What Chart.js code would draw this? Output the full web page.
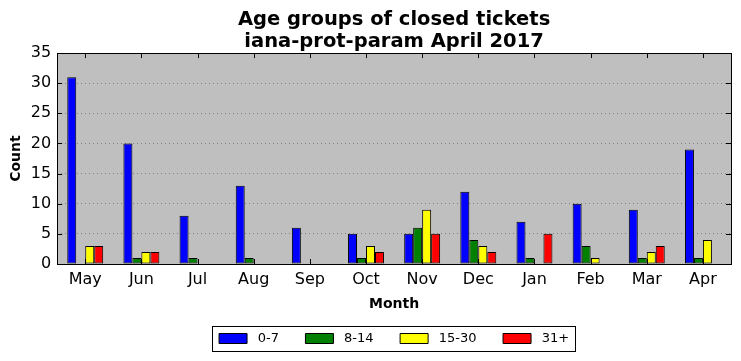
<!DOCTYPE html>
<html>
<head>
<meta charset="utf-8">
<script src="https://cdn.jsdelivr.net/npm/chart.js@4/dist/chart.umd.min.js"></script>
<style>
html,body{margin:0;padding:0;background:#fff;}
#wrap{width:741px;height:361px;}
</style>
</head>
<body>
<div id="wrap"><canvas id="c" width="741" height="361"></canvas></div>
<script>
const months = ["May","Jun","Jul","Aug","Sep","Oct","Nov","Dec","Jan","Feb","Mar","Apr"];
const age0to7   = [31, 20, 8, 13, 6, 5, 5, 12, 7, 10, 9, 19];
const age8to14  = [0, 1, 1, 1, 0, 1, 6, 4, 1, 3, 1, 1];
const age15to30 = [3, 2, 0, 0, 0, 3, 9, 3, 0, 1, 2, 4];
const age31plus = [3, 2, 0, 0, 0, 2, 5, 2, 5, 0, 3, 0];
const seriesNames = ["0-7","8-14","15-30","31+"];
const seriesColors = ["#0000ff","#008000","#ffff00","#ff0000"];

const FONT = "'DejaVu Sans', sans-serif";

const framePlugin = {
  id: 'frame',
  beforeDraw(chart) {
    const {ctx, chartArea: a} = chart;
    ctx.save();
    ctx.fillStyle = '#bfbfbf';
    ctx.fillRect(a.left, a.top, a.right - a.left, a.bottom - a.top);
    ctx.restore();
  },
  afterDraw(chart) {
    const {ctx, chartArea: a, scales} = chart;
    ctx.save();
    ctx.strokeStyle = '#000';
    ctx.lineWidth = 1;
    ctx.beginPath();
    const xs = scales.x;
    xs.ticks.forEach((t, i) => {
      const px = Math.round(xs.getPixelForTick(i)) + 0.5;
      ctx.moveTo(px, a.bottom); ctx.lineTo(px, a.bottom - 5);
      ctx.moveTo(px, a.top); ctx.lineTo(px, a.top + 5);
    });
    const ys = scales.y;
    ys.ticks.forEach((t, i) => {
      const py = Math.round(ys.getPixelForTick(i)) + 0.5;
      ctx.moveTo(a.left, py); ctx.lineTo(a.left + 5, py);
      ctx.moveTo(a.right, py); ctx.lineTo(a.right - 5, py);
    });
    ctx.stroke();
    ctx.strokeRect(Math.round(a.left) + 0.5, Math.round(a.top) + 0.5,
                   Math.round(a.right - a.left), Math.round(a.bottom - a.top));
    const lg = chart.legend;
    if (lg && lg.legendHitBoxes && lg.legendHitBoxes.length) {
      const hb = lg.legendHitBoxes;
      let l = Infinity, r = -Infinity, t = Infinity, b = -Infinity;
      hb.forEach(h => {
        l = Math.min(l, h.left); r = Math.max(r, h.left + h.width);
        t = Math.min(t, h.top); b = Math.max(b, h.top + h.height);
      });
      ctx.strokeRect(Math.round(l - 7) + 0.5, Math.round(t - 6) + 0.5,
                     Math.round(r - l + 13), Math.round(b - t + 12));
    }
    ctx.restore();
  }
};

const dataSets = [age0to7, age8to14, age15to30, age31plus].map((d, i) => ({
  label: seriesNames[i],
  data: d,
  backgroundColor: seriesColors[i],
  borderColor: '#000',
  borderWidth: 1,
  borderSkipped: false,
  barPercentage: 1.0,
  categoryPercentage: 0.64
}));

new Chart(document.getElementById('c'), {
  type: 'bar',
  data: { labels: months, datasets: dataSets },
  plugins: [framePlugin],
  options: {
    responsive: false,
    animation: false,
    devicePixelRatio: 1,
    layout: { padding: { left: 8, right: 10, top: 9, bottom: 6 } },
    plugins: {
      title: {
        display: true,
        fullSize: false,
        text: ["Age groups of closed tickets", "iana-prot-param April 2017"],
        color: '#000',
        font: { family: FONT, size: 19.5, weight: 'bold', lineHeight: 1.13 },
        padding: { top: 0, bottom: 0 }
      },
      legend: {
        position: 'bottom',
        fullSize: false,
        labels: {
          color: '#000',
          font: { family: FONT, size: 13 },
          boxWidth: 28,
          boxHeight: 10,
          padding: 10,
          generateLabels(chart) {
            const n = chart.data.datasets.length;
            return chart.data.datasets.map((ds, i) => ({
              text: ' ' + ds.label + (i < n - 1 ? '    ' : ''),
              fillStyle: ds.backgroundColor,
              strokeStyle: '#000',
              lineWidth: 1,
              datasetIndex: i,
              hidden: false,
              fontColor: '#000'
            }));
          }
        }
      },
      tooltip: { enabled: false }
    },
    scales: {
      x: {
        offset: true,
        grid: { display: false, drawTicks: false },
        border: { display: false },
        ticks: { color: '#000', font: { family: FONT, size: 16 }, padding: 6, maxRotation: 0 },
        title: { display: true, text: 'Month', color: '#000', font: { family: FONT, size: 14, weight: 'bold' }, padding: { top: 1, bottom: 9 } }
      },
      y: {
        min: 0, max: 35,
        ticks: { stepSize: 5, color: '#000', font: { family: FONT, size: 16 }, padding: 6 },
        grid: { color: '#808080', drawTicks: false, lineWidth: 1 },
        border: { display: false, dash: [1, 3] },
        title: { display: true, text: 'Count', color: '#000', font: { family: FONT, size: 14, weight: 'bold' }, padding: { top: 0, bottom: 0 } }
      }
    }
  }
});
</script>
</body>
</html>
